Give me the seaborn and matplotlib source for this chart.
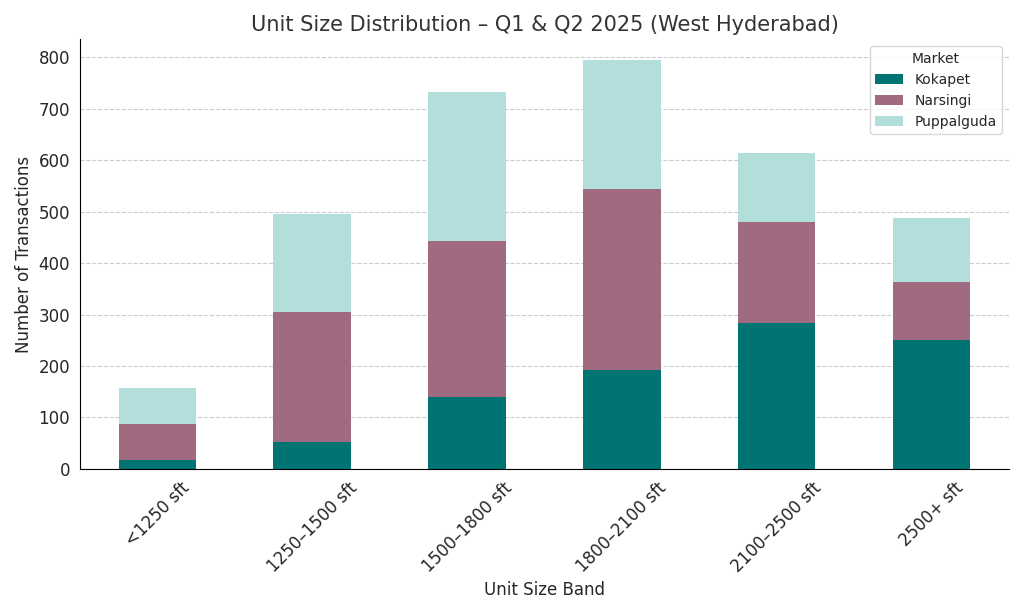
import numpy as np
import pandas as pd
import seaborn as sns
import matplotlib.pyplot as plt

bands = ["<1250 sft", "1250–1500 sft", "1500–1800 sft", "1800–2100 sft", "2100–2500 sft", "2500+ sft"]
kokapet = [17, 53, 140, 193, 284, 250]
narsingi = [71, 252, 303, 352, 196, 113]
puppalguda = [70, 190, 290, 250, 135, 125]

df = pd.DataFrame({"band": bands, "Kokapet": kokapet, "Narsingi": narsingi, "Puppalguda": puppalguda})
markets = ["Kokapet", "Narsingi", "Puppalguda"]
colors = {"Kokapet": "#007373", "Narsingi": "#A06A80", "Puppalguda": "#B2DFDB"}

sns.set_style("whitegrid", {"grid.linestyle": "--", "grid.color": "#cccccc"})
fig, ax = plt.subplots(figsize=(10.24, 6.14), dpi=100)

# stacked bars: draw cumulative totals from largest to smallest so lower stacks sit on top
cum = df[markets].cumsum(axis=1)
for m in reversed(markets):
    sns.barplot(x=df["band"], y=cum[m], color=colors[m], width=0.5, ax=ax,
                label=m, edgecolor="none", linewidth=0, saturation=1)

ax.set_title("Unit Size Distribution – Q1 & Q2 2025 (West Hyderabad)", fontsize=15, color="#333333")
ax.set_xlabel("Unit Size Band", fontsize=12)
ax.set_ylabel("Number of Transactions", fontsize=12)
ax.set_ylim(0, 835)
ax.set_yticks(range(0, 801, 100))
ax.tick_params(axis="both", labelsize=12)
plt.setp(ax.get_xticklabels(), rotation=45)
ax.set_axisbelow(True)
for s in ["top", "right"]:
    ax.spines[s].set_visible(False)
for s in ["left", "bottom"]:
    ax.spines[s].set_color("black")
h, l = ax.get_legend_handles_labels()
ax.legend(h[::-1], l[::-1], title="Market", loc="upper right", fontsize=10, title_fontsize=10)
plt.tight_layout()
plt.savefig("out.png", dpi=100)
